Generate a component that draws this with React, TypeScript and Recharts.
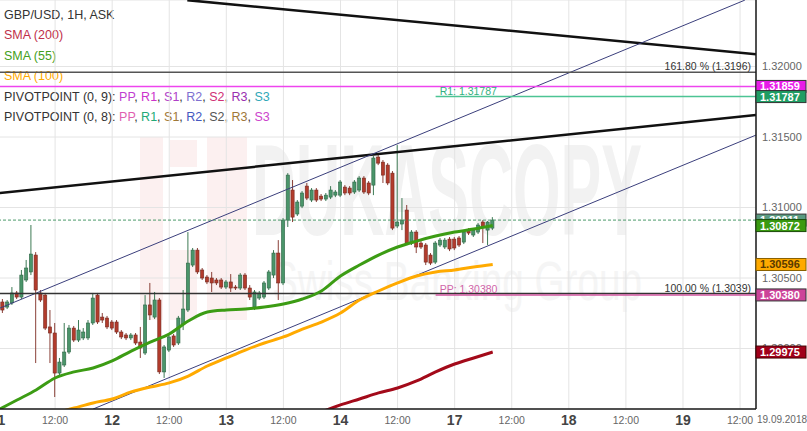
import React from 'react';
import { ComposedChart, Bar, Line, XAxis, YAxis, CartesianGrid, ReferenceLine } from 'recharts';

const FONT = '"Liberation Sans", Arial, sans-serif';

// GBP/USD hourly candles, hour index counted from 11.09 00:00 (weekend folded out)
const hours = [
  1, 2, 3, 4, 5, 6, 7, 8, 9, 10, 11, 12, 13, 14, 15, 16, 17, 18, 19, 20,
  21, 22, 23, 24, 25, 26, 27, 28, 29, 30, 31, 32, 33, 34, 35, 36, 37, 38, 39, 40,
  41, 42, 43, 44, 45, 46, 47, 48, 49, 50, 51, 52, 53, 54, 55, 56, 57, 58, 59, 60,
  61, 62, 63, 64, 65, 66, 67, 68, 69, 70, 71, 72, 73, 74, 75, 76, 77, 78, 79, 80,
  81, 82, 83, 84, 85, 86, 87, 88, 89, 90, 91, 92, 93, 94, 95, 96, 97, 98, 99, 100,
  101, 102, 103, 104,
];
const opens = [
  1.3033, 1.30294, 1.30323, 1.30394, 1.30365, 1.30486, 1.30543, 1.30663, 1.30394, 1.30379,
  1.30153, 1.3011, 1.29826, 1.29883, 1.29975, 1.30145, 1.3006, 1.30075, 1.30075, 1.30181,
  1.30379, 1.30223, 1.30216, 1.30188, 1.30188, 1.30117, 1.30096, 1.30075, 1.30096, 1.30046,
  1.29968, 1.30309, 1.30223, 1.30344, 1.29834, 1.29989, 1.30089, 1.30039, 1.30174, 1.30273,
  1.30592, 1.30698, 1.30557, 1.30507, 1.305, 1.30486, 1.30486, 1.30436, 1.30472, 1.30436,
  1.30429, 1.30521, 1.30429, 1.30294, 1.30358, 1.30365, 1.30429, 1.30521, 1.30677, 1.30465,
  1.30911, 1.31124, 1.30954, 1.3101, 1.31152, 1.31053, 1.31124, 1.31081, 1.3106, 1.31074,
  1.31088, 1.31088, 1.31145, 1.31138, 1.3111, 1.31124, 1.31209, 1.31174, 1.31159, 1.31358,
  1.31322, 1.31301, 1.31244, 1.30869, 1.30883, 1.30982, 1.30748, 1.30826, 1.30748, 1.30734,
  1.30663, 1.30613, 1.30734, 1.3072, 1.30776, 1.30776, 1.30784, 1.30755, 1.3084, 1.30805,
  1.30826, 1.30897, 1.3084, 1.30854,
];
const highs = [
  1.30351, 1.30344, 1.30436, 1.30408, 1.30557, 1.30628, 1.30876, 1.30684, 1.30415, 1.30394,
  1.30273, 1.30181, 1.29933, 1.30181, 1.30167, 1.3016, 1.30202, 1.30145, 1.30202, 1.30394,
  1.30394, 1.30252, 1.30231, 1.30202, 1.30202, 1.30131, 1.3011, 1.3011, 1.3011, 1.30153,
  1.30379, 1.30465, 1.30401, 1.30358, 1.30025, 1.30096, 1.30103, 1.30231, 1.30415, 1.30826,
  1.30713, 1.30713, 1.30571, 1.30521, 1.30543, 1.305, 1.305, 1.30486, 1.30528, 1.3045,
  1.30535, 1.30535, 1.3045, 1.30415, 1.30408, 1.30479, 1.30557, 1.30698, 1.30769, 1.30925,
  1.31244, 1.31195, 1.31053, 1.31117, 1.31174, 1.31138, 1.31138, 1.31096, 1.31103, 1.31152,
  1.31124, 1.31195, 1.31159, 1.31152, 1.31195, 1.31223, 1.31223, 1.31188, 1.31365, 1.31386,
  1.31337, 1.31315, 1.31259, 1.31443, 1.31067, 1.31018, 1.3084, 1.3084, 1.30762, 1.30748,
  1.30677, 1.30762, 1.30784, 1.30784, 1.30791, 1.30791, 1.30798, 1.3084, 1.30854, 1.30854,
  1.3089, 1.30911, 1.30904, 1.30932,
];
const lows = [
  1.30252, 1.3028, 1.30309, 1.30351, 1.30351, 1.30472, 1.30521, 1.29897, 1.3033, 1.30131,
  1.29897, 1.29656, 1.29805, 1.29869, 1.29961, 1.30046, 1.30046, 1.3006, 1.3006, 1.30167,
  1.30174, 1.30181, 1.30138, 1.30131, 1.30103, 1.30067, 1.3006, 1.3006, 1.30025, 1.29933,
  1.29954, 1.30202, 1.30209, 1.29819, 1.29791, 1.29975, 1.30011, 1.30025, 1.30131, 1.30259,
  1.30578, 1.30528, 1.30486, 1.30457, 1.30401, 1.3045, 1.30422, 1.30422, 1.30401, 1.30415,
  1.30415, 1.30415, 1.30344, 1.30273, 1.30344, 1.30351, 1.30415, 1.305, 1.30344, 1.3045,
  1.30862, 1.30897, 1.3094, 1.30996, 1.31053, 1.31039, 1.31039, 1.31046, 1.31046, 1.3106,
  1.31074, 1.31074, 1.31088, 1.31088, 1.31096, 1.3111, 1.31096, 1.31088, 1.31088, 1.31301,
  1.31174, 1.31159, 1.3084, 1.30854, 1.3084, 1.30734, 1.30734, 1.30677, 1.30706, 1.30592,
  1.30592, 1.30599, 1.3072, 1.30706, 1.30691, 1.30698, 1.3072, 1.30741, 1.30805, 1.30791,
  1.30812, 1.30748, 1.30734, 1.3084,
];
const closes = [
  1.30273, 1.3033, 1.30394, 1.30365, 1.30521, 1.30571, 1.3067, 1.30415, 1.30344, 1.30145,
  1.3011, 1.29826, 1.29904, 1.29975, 1.30145, 1.3006, 1.30131, 1.30117, 1.30181, 1.30358,
  1.30188, 1.30202, 1.30153, 1.30145, 1.30117, 1.30082, 1.30075, 1.30096, 1.30039, 1.30004,
  1.30309, 1.30238, 1.30344, 1.29834, 1.30011, 1.30082, 1.30025, 1.30216, 1.3028, 1.30606,
  1.30698, 1.30543, 1.305, 1.30472, 1.30465, 1.30465, 1.30436, 1.30472, 1.30429, 1.30429,
  1.30521, 1.30429, 1.30365, 1.30401, 1.30394, 1.30465, 1.30543, 1.30677, 1.30465, 1.30911,
  1.3123, 1.30932, 1.31039, 1.31103, 1.31067, 1.31124, 1.31053, 1.3106, 1.31088, 1.31124,
  1.3111, 1.31181, 1.31103, 1.31103, 1.31181, 1.31209, 1.3111, 1.31103, 1.31351, 1.31315,
  1.3123, 1.31174, 1.30854, 1.30897, 1.30911, 1.30748, 1.30826, 1.3072, 1.3072, 1.30613,
  1.30606, 1.30748, 1.30769, 1.30769, 1.30706, 1.30713, 1.30734, 1.30826, 1.30819, 1.3084,
  1.30876, 1.30862, 1.30897, 1.30911,
];

// moving averages sampled every 4 hours
const sma55Hours = [0, 4, 8, 12, 16, 20, 24, 28, 32, 36, 40, 44, 48, 52, 56, 60, 64, 68, 72, 76, 80, 84, 88, 92, 96, 100, 104];
const sma55 = [
  1.29564, 1.29635, 1.29706, 1.29791, 1.29834, 1.29862, 1.29912, 1.29982, 1.30046, 1.30103,
  1.30195, 1.30259, 1.30273, 1.3028, 1.30294, 1.30316, 1.30351, 1.30408, 1.30514, 1.30592,
  1.30663, 1.3072, 1.30762, 1.30798, 1.30826, 1.30847, 1.30872,
];
const sma100Hours = [12, 16, 20, 24, 28, 32, 36, 40, 44, 48, 52, 56, 60, 64, 68, 72, 76, 80, 84, 88, 92, 96, 100, 104];
const sma100 = [
  1.29543, 1.29578, 1.29614, 1.29642, 1.29692, 1.29727, 1.29756, 1.29805, 1.29876, 1.29933,
  1.29989, 1.30039, 1.30082, 1.30138, 1.30188, 1.30252, 1.30344, 1.30408, 1.30465, 1.30514,
  1.30543, 1.30557, 1.30578, 1.30596,
];
const sma200Hours = [68, 72, 76, 80, 84, 88, 92, 96, 100, 104];
const sma200 = [1.2955, 1.296, 1.29642, 1.29685, 1.2972, 1.2977, 1.29834, 1.2989, 1.29933, 1.29975];

// drawn trend lines: [hour, price] pairs
const trendLines = [
  { from: [39.8, 1.32471], to: [159.35, 1.32088], color: '#111', width: 2.5 },
  { from: [0, 1.31101], to: [159.35, 1.31656], color: '#111', width: 2.5 },
  { from: [0, 1.30281], to: [157, 1.32471], color: '#3b3f7c', width: 1 },
  { from: [20, 1.29571], to: [159.35, 1.31514], color: '#3b3f7c', width: 1 },
];

const hourTicks = [0, 12, 24, 36, 48, 60, 72, 84, 96, 108, 120, 132, 144, 156];
const hourLabels = ['11', '12:00', '12', '12:00', '13', '12:00', '14', '12:00', '17', '12:00', '18', '12:00', '19', '12:00'];
const priceTicks = [1.3, 1.305, 1.31, 1.315, 1.32];
const hourDomain = [0, 159.35];
const priceDomain = [1.29571, 1.32472];

const candles = hours.map((h, i) => ({ h, open: opens[i], high: highs[i], low: lows[i], close: closes[i] }));
const toSeries = (hs: number[], vs: number[]) => hs.map((h, i) => ({ h, v: vs[i] }));

function Candle(props: any) {
  const { x, y, width, height, payload } = props;
  if (!payload || height == null) return null;
  const { open, high, low, close } = payload;
  const py = (v: number) => y + ((high - v) / (high - low)) * height;
  const cx = x + width / 2;
  const up = close >= open;
  const fill = up ? '#4a956a' : '#b23b2c';
  const edge = up ? '#2f6646' : '#752a20';
  const top = py(Math.max(open, close));
  const bot = py(Math.min(open, close));
  return (
    <g>
      <line x1={cx} x2={cx} y1={y} y2={y + height} stroke={up ? '#3d7a55' : '#8a4038'} strokeWidth={1} />
      <rect x={cx - 1.6} y={top} width={3.2} height={Math.max(bot - top, 1)} fill={fill} stroke={edge} strokeWidth={0.6} />
    </g>
  );
}

function DayTick(props: any) {
  const { x, y, payload } = props;
  const label = hourLabels[hourTicks.indexOf(payload.value)];
  const isDay = label && !label.includes(':');
  return (
    <text
      x={x}
      y={y}
      dy={isDay ? 8 : 7}
      textAnchor="middle"
      fontFamily={FONT}
      fontSize={isDay ? 14 : 10.5}
      fontWeight={isDay ? 'bold' : 'normal'}
      fill={isDay ? '#444' : '#666'}
    >
      {label}
    </text>
  );
}

// coloured price box in the right-hand axis column
const priceTag = (text: string, bg: string, fg = '#fff', border = '#333') => (p: any) => {
  const vb = p.viewBox;
  if (!vb) return null;
  const x = vb.x + vb.width;
  return (
    <g>
      <rect x={x} y={vb.y - 6} width={50} height={12} fill={bg} stroke={border} strokeWidth={1} />
      <text x={x + 4} y={vb.y + 4} fill={fg} fontFamily={FONT} fontSize={11} fontWeight="bold">
        {text}
      </text>
    </g>
  );
};

const levelText = (text: string, color: string, anchor: 'start' | 'end') => (p: any) => {
  const vb = p.viewBox;
  if (!vb) return null;
  const tx = anchor === 'start' ? vb.x + 4 : vb.x + vb.width - 5;
  return (
    <text x={tx} y={vb.y - 2} textAnchor={anchor} fill={color} fontFamily={FONT} fontSize={10.5}>
      {text}
    </text>
  );
};

function Legend() {
  const row = { height: 20.4, whiteSpace: 'nowrap' as const };
  return (
    <div style={{ position: 'absolute', left: 4, top: 5, fontFamily: FONT, fontSize: 12.5, color: '#333', lineHeight: '20.4px' }}>
      <div style={row}>GBP/USD, 1H, ASK</div>
      <div style={{ ...row, color: '#c0304a' }}>SMA (200)</div>
      <div style={{ ...row, color: '#44a020' }}>SMA (55)</div>
      <div style={{ ...row, color: '#ffaa00' }}>SMA (100)</div>
      <div style={row}>
        PIVOTPOINT (0, 9): <span style={{ color: '#c040d0' }}>PP</span>, <span style={{ color: '#cc33cc' }}>R1</span>,{' '}
        <span style={{ color: '#b040c8' }}>S1</span>, <span style={{ color: '#7e70d0' }}>R2</span>,{' '}
        <span style={{ color: '#d03075' }}>S2</span>, <span style={{ color: '#9a30b0' }}>R3</span>,{' '}
        <span style={{ color: '#30a8b8' }}>S3</span>
      </div>
      <div style={row}>
        PIVOTPOINT (0, 8): <span style={{ color: '#e060b0' }}>PP</span>, <span style={{ color: '#22aa77' }}>R1</span>,{' '}
        <span style={{ color: '#a07838' }}>S1</span>, <span style={{ color: '#4458c0' }}>R2</span>,{' '}
        <span style={{ color: '#555' }}>S2</span>, <span style={{ color: '#a07838' }}>R3</span>,{' '}
        <span style={{ color: '#cc44cc' }}>S3</span>
      </div>
    </div>
  );
}

function Watermark() {
  return (
    <svg width={807} height={431} style={{ position: 'absolute', left: 0, top: 0 }}>
      <g fill="#fcf0f0">
        <rect x={140} y={137} width={23} height={183} />
        <rect x={170} y={140} width={27} height={27} />
        <rect x={207} y={137} width={40} height={183} />
        <rect x={170} y={250} width={27} height={70} />
      </g>
      <text x={252} y={235} fontFamily={FONT} fontWeight="bold" fontSize={130} fill="#f2f2f2" textLength={390} lengthAdjust="spacingAndGlyphs">
        DUKASCOPY
      </text>
      <text x={272} y={300} fontFamily={FONT} fontSize={56} fill="#f5f5f5" textLength={370} lengthAdjust="spacingAndGlyphs">
        Swiss Banking Group
      </text>
    </svg>
  );
}

// price boxes sit on their own layer so they cover the axis tick text
function PriceTags() {
  return (
    <ComposedChart width={809} height={431} data={candles} margin={{ top: 0, right: 51, bottom: 22, left: 0 }}>
      <XAxis dataKey="h" type="number" domain={hourDomain} allowDataOverflow hide />
      <YAxis type="number" domain={priceDomain} allowDataOverflow hide />
      <ReferenceLine y={1.31859} stroke="none" label={priceTag('1.31859', '#e81ce8')} />
      <ReferenceLine y={1.31787} stroke="none" label={priceTag('1.31787', '#1f9d63')} />
      <ReferenceLine y={1.30911} stroke="none" label={priceTag('1.30911', '#5a9a80')} />
      <ReferenceLine y={1.30872} stroke="none" label={priceTag('1.30872', '#3a9a10', '#fff', '#1a4a08')} />
      <ReferenceLine y={1.30596} stroke="none" label={priceTag('1.30596', '#ffaa00', '#5a3a00', '#8a6000')} />
      <ReferenceLine y={1.3038} stroke="none" label={priceTag('1.30380', '#cc4499')} />
      <ReferenceLine y={1.29975} stroke="none" label={priceTag('1.29975', '#a0001a', '#fff', '#400')} />
    </ComposedChart>
  );
}

export default function App() {
  return (
    <div style={{ position: 'fixed', left: 0, top: 0, width: 807, height: 431, overflow: 'hidden', background: '#fff' }}>
      <Watermark />
      <Legend />
      <div style={{ position: 'absolute', left: -2, top: 0 }}>
        <ComposedChart width={809} height={431} data={candles} margin={{ top: 0, right: 0, bottom: 0, left: 0 }}>
          <CartesianGrid stroke="#e4e4e4" />
          <XAxis
            dataKey="h"
            type="number"
            domain={hourDomain}
            allowDataOverflow
            ticks={hourTicks}
            interval={0}
            height={22}
            tickLine={false}
            axisLine={{ stroke: '#1a1a1a', strokeWidth: 1.5 }}
            tick={<DayTick />}
          />
          <YAxis
            orientation="right"
            type="number"
            domain={priceDomain}
            allowDataOverflow
            ticks={priceTicks}
            width={51}
            tickLine={false}
            tickMargin={0}
            axisLine={{ stroke: '#1a1a1a', strokeWidth: 1.5 }}
            tick={{ fontSize: 11, fill: '#666', fontFamily: FONT }}
            tickFormatter={(v: number) => v.toFixed(5)}
          />

          {trendLines.map((t, i) => (
            <ReferenceLine
              key={i}
              segment={[{ x: t.from[0], y: t.from[1] }, { x: t.to[0], y: t.to[1] }]}
              stroke={t.color}
              strokeWidth={t.width}
              ifOverflow="hidden"
            />
          ))}

          <ReferenceLine y={1.3196} stroke="#555" strokeWidth={1.5} label={levelText('161.80 % (1.3196)', '#333', 'end')} />
          <ReferenceLine y={1.31859} stroke="#ee44ee" strokeWidth={1.5} />
          <ReferenceLine
            segment={[{ x: 92, y: 1.31787 }, { x: 159.35, y: 1.31787 }]}
            stroke="#4cc494"
            strokeWidth={1.5}
            label={levelText('R1: 1.31787', '#33b080', 'start')}
          />
          <ReferenceLine y={1.3039} stroke="#333" strokeWidth={1.5} label={levelText('100.00 % (1.3039)', '#333', 'end')} />
          <ReferenceLine
            segment={[{ x: 92, y: 1.3038 }, { x: 159.35, y: 1.3038 }]}
            stroke="#d0559f"
            strokeWidth={1.5}
            label={levelText('PP: 1.30380', '#d065a8', 'start')}
          />
          <ReferenceLine y={1.30911} stroke="#4a9a6a" strokeDasharray="3 2" />

          <Line data={toSeries(sma100Hours, sma100)} dataKey="v" stroke="#ffaa00" strokeWidth={3} dot={false} type="monotone" isAnimationActive={false} />
          <Line data={toSeries(sma200Hours, sma200)} dataKey="v" stroke="#a30a1a" strokeWidth={3} dot={false} type="monotone" isAnimationActive={false} />
          <Line data={toSeries(sma55Hours, sma55)} dataKey="v" stroke="#3c9c14" strokeWidth={3} dot={false} type="monotone" isAnimationActive={false} />

          <Bar dataKey={(d: any) => [d.low, d.high]} barSize={4} shape={<Candle />} isAnimationActive={false} />
        </ComposedChart>
      </div>
      <div style={{ position: 'absolute', left: -2, top: 0 }}>
        <PriceTags />
      </div>
      <div style={{ position: 'absolute', left: 757, top: 414, fontFamily: FONT, fontSize: 10, color: '#666' }}>19.09.2018</div>
    </div>
  );
}
